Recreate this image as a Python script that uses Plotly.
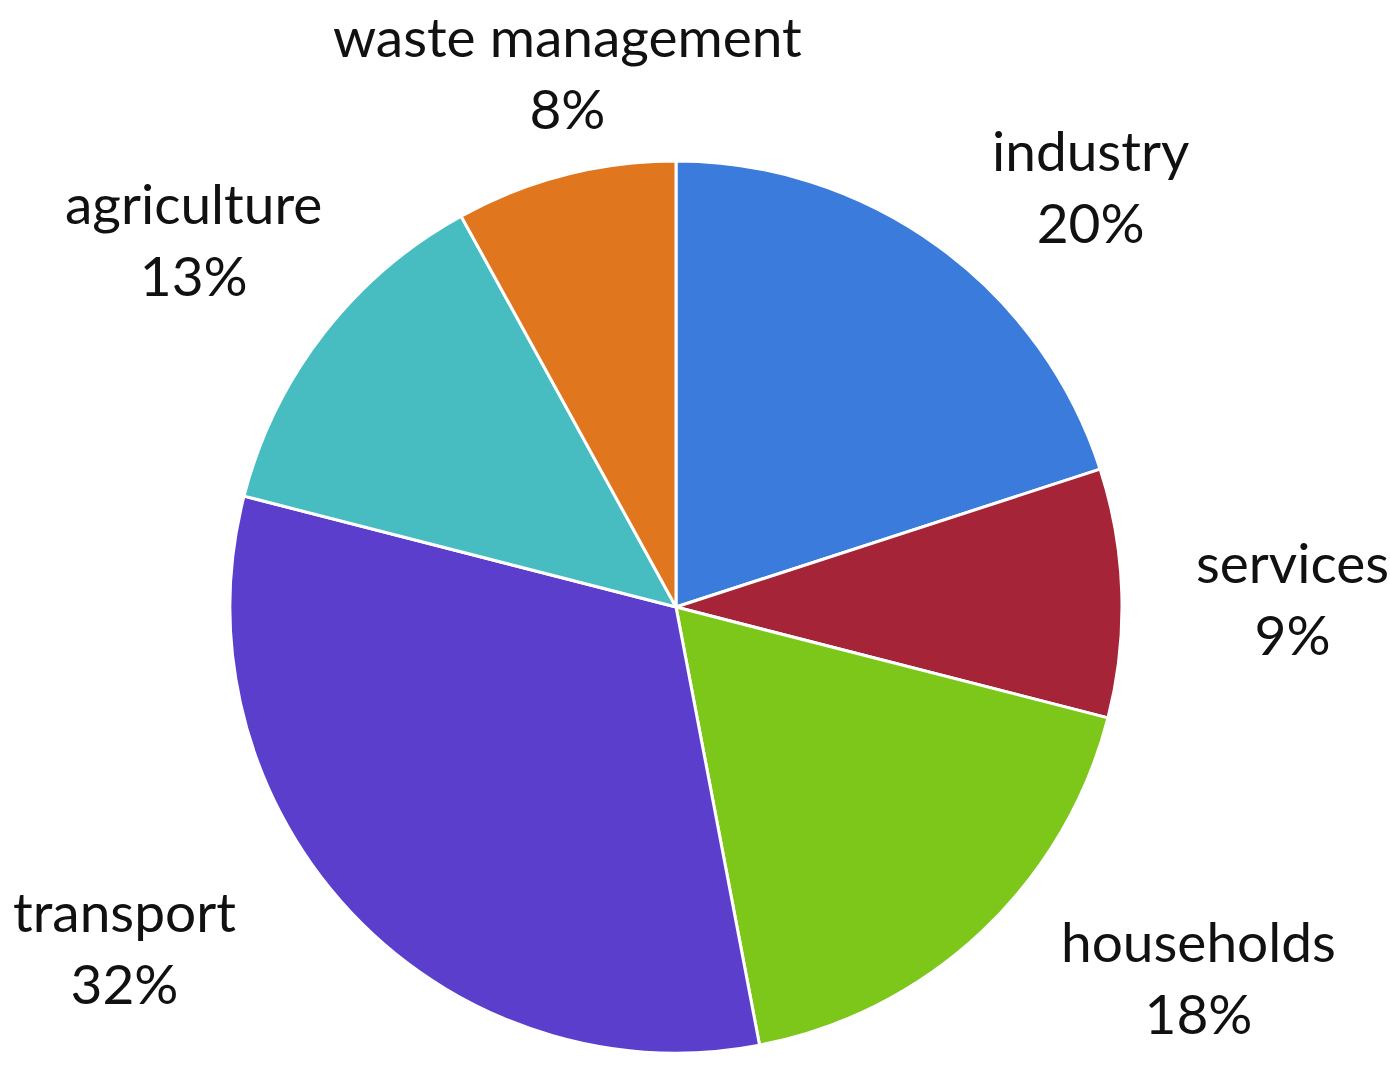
import numpy as np
import plotly.graph_objects as go

# Sector shares, clockwise from 12 o'clock
sectors = ["industry", "services", "households", "transport", "agriculture", "waste management"]
shares = [20, 9, 18, 32, 13, 8]
colors = ["#3A7BDB", "#A52438", "#7DC71A", "#5B3FCC", "#47BDC2", "#E0771F"]

W, H = 1390, 1087
CX, CY, R = 676, 607, 446          # pie centre and radius in pixels
LRX, LRY = 518, 448                # label anchor ellipse in pixels
# hand-tuned pixel nudges for each label (right, down)
label_nudge = [(10, 12), (0, 5), (28, -28), (-60, -38), (57, -22), (20, -30)]

fig = go.Figure(go.Pie(
    labels=sectors,
    values=shares,
    sort=False,
    direction="clockwise",
    rotation=0,
    marker=dict(colors=colors, line=dict(color="white", width=3)),
    textinfo="none",
    hoverinfo="label+percent",
    showlegend=False,
    domain=dict(x=[(CX - R) / W, (CX + R) / W], y=[1 - (CY + R) / H, 1 - (CY - R) / H]),
))

# Labels sit outside the pie; the side of each label facing the pie is
# anchored on an ellipse at the slice's mid-angle
vals = np.array(shares, dtype=float)
mids = (np.cumsum(vals) - vals / 2) / vals.sum() * 2 * np.pi
annotations = []
for name, share, a, (nx, ny) in zip(sectors, shares, mids, label_nudge):
    dx, dy = np.sin(a), np.cos(a)
    px = CX + LRX * dx + nx
    py = CY - LRY * dy + ny
    xanchor = "left" if dx > 0.3 else ("right" if dx < -0.3 else "center")
    yanchor = "bottom" if dy > 0.3 else ("top" if dy < -0.3 else "middle")
    annotations.append(dict(
        x=px / W, y=1 - py / H, xref="paper", yref="paper",
        text=f"{name}<br>{share}%", showarrow=False,
        xanchor=xanchor, yanchor=yanchor, align="center",
        font=dict(family="Lato, Carlito, sans-serif", size=55, color="#111111"),
    ))

fig.update_layout(
    width=W, height=H,
    margin=dict(l=0, r=0, t=0, b=0),
    paper_bgcolor="white",
    plot_bgcolor="white",
    annotations=annotations,
)

fig.write_html("out.html")
